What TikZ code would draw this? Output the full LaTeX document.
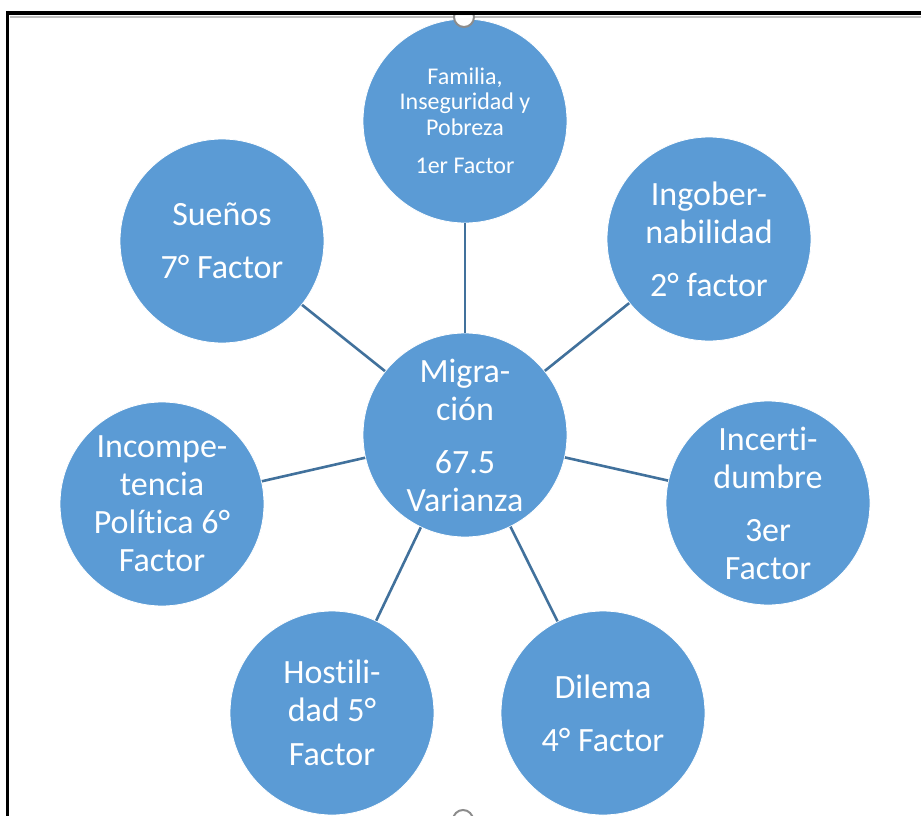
\documentclass[tikz,border=0pt]{standalone}
\usepackage{fontspec}
\setmainfont{Carlito}[Ligatures=NoCommon]
\definecolor{bubble}{HTML}{5B9BD5}
\definecolor{linkc}{HTML}{41719C}
\definecolor{handlec}{HTML}{8C8C8C}
\begin{document}
\begin{tikzpicture}[x=1pt,y=-1pt,
  bub/.style={circle,fill=bubble,draw=white,line width=0.8pt,minimum size=204pt,inner sep=0pt,
    text=white,align=center,font=\fontsize{34}{38}\selectfont},
  smallbub/.style={bub,font=\fontsize{24}{25.5}\selectfont},
  link/.style={draw=linkc,line width=2.6pt},
  handle/.style={circle,fill=white,draw=handlec,line width=2pt,minimum size=20pt,inner sep=0pt}]
\useasboundingbox (0,0) rectangle (921,816);
\clip (0,0) rectangle (921,816);
% nodes
\node[bub] (mig) at (465,435) {Migra-\\ción\\[15pt]67.5\\Varianza};
\node[smallbub] (fam) at (465,121) {Familia,\\Inseguridad y\\Pobreza\\[13pt]1er Factor};
\node[bub] (ing) at (709,239) {Ingober-\\nabilidad\\[15pt]2° factor};
\node[bub] (inc) at (768,503) {Incerti-\\dumbre\\[15pt]3er\\Factor};
\node[bub] (dil) at (603,713) {Dilema\\[15pt]4° Factor};
\node[bub] (hos) at (332,713) {Hostili-\\dad 5°\\[6pt]Factor};
\node[bub] (icp) at (162,504) {Incompe-\\tencia\\Política 6°\\Factor};
\node[bub] (sue) at (222,241) {Sueños\\[15pt]7° Factor};
% connectors
\foreach \n in {fam,ing,inc,dil,hos,icp,sue}
  \draw[link] (mig) -- (\n);
% frame
\draw[draw=black!25,line width=2pt] (10,16.8) -- (921,16.8);
\begin{scope}
  \clip (0,13) rectangle (921,816);
  \node[handle] (toph) at (464,17) {};
\end{scope}
\node[handle] (both) at (463,820) {};
\draw[line width=4pt] (7.5,13) -- (921,13);
\draw[line width=3.5pt] (7.5,11) -- (7.5,816);
\end{tikzpicture}
\end{document}
